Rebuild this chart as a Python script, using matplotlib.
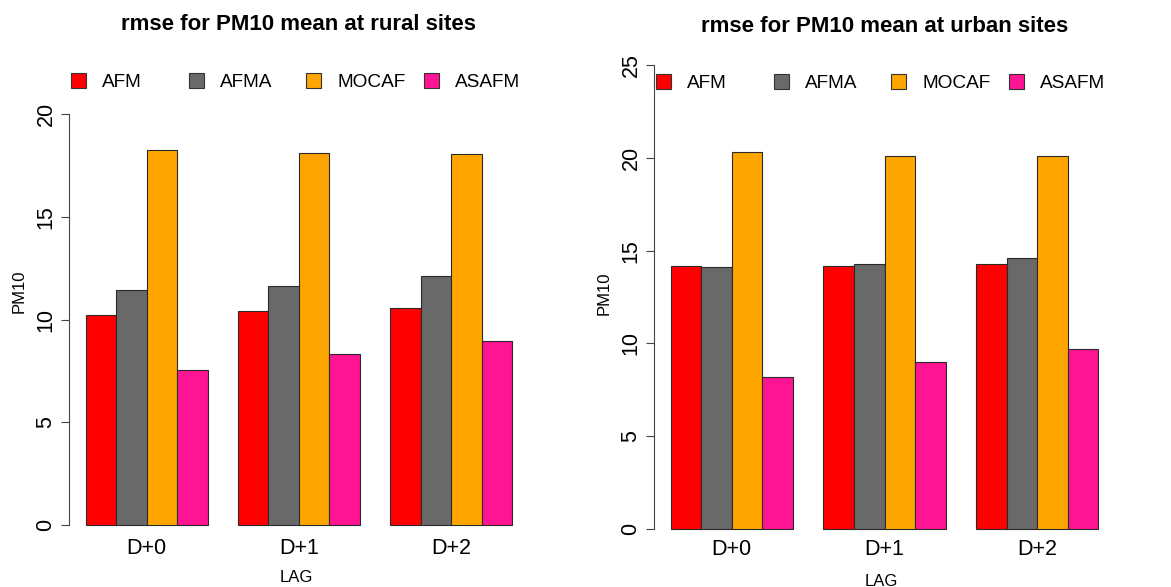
import matplotlib
matplotlib.use("Agg")
import matplotlib.pyplot as plt
from matplotlib.patches import Patch
import numpy as np

plt.rcParams['font.family'] = ['Liberation Sans', 'DejaVu Sans']

# rmse of PM10 daily mean, per model and forecast lag
lags = ["D+0", "D+1", "D+2"]
models = ["AFM", "AFMA", "MOCAF", "ASAFM"]
colors = ["#ff0000", "#696969", "#ffa500", "#ff1493"]

rural = {
    "AFM":   [10.24, 10.43, 10.58],
    "AFMA":  [11.44, 11.63, 12.14],
    "MOCAF": [18.26, 18.10, 18.05],
    "ASAFM": [7.55, 8.33, 8.95],
}
urban = {
    "AFM":   [14.15, 14.15, 14.28],
    "AFMA":  [14.12, 14.28, 14.62],
    "MOCAF": [20.34, 20.11, 20.11],
    "ASAFM": [8.18, 8.99, 9.68],
}

W, H = 1171, 587
fig = plt.figure(figsize=(W / 100, H / 100), dpi=100)


def px(x, y):
    return x / W, 1 - y / H


def barplot(rect, data, ymax, title, title_y, leg_y, xpad, ylab_x, ylab_y, lag_y):
    ax = fig.add_axes(rect)
    # grouped bars like R's barplot(beside=TRUE): one empty slot between groups
    for j, m in enumerate(models):
        for i in range(len(lags)):
            left = 1 + i * 5 + j
            ax.bar(left + 0.5, data[m][i], width=1.0, color=colors[j],
                   edgecolor="#2a2a2a", linewidth=0.8)
    ax.set_xlim(0.44, 15.56)
    ax.set_ylim(-ymax * 0.04, ymax * 1.04)
    for s in ["top", "right", "bottom"]:
        ax.spines[s].set_visible(False)
    ax.spines["left"].set_bounds(0, ymax)
    ax.spines["left"].set_color("#444444")
    ax.spines["left"].set_linewidth(0.8)
    ax.set_yticks(np.arange(0, ymax + 1, 5))
    ax.tick_params(axis="y", length=5.8, width=0.8, color="#444444",
                   labelsize=15.5, pad=3)
    plt.setp(ax.get_yticklabels(), rotation=90, va="center")
    ax.set_xticks([3, 8, 13])
    ax.set_xticklabels(lags)
    ax.tick_params(axis="x", length=0, labelsize=15.5, pad=xpad)

    x0 = rect[0] * W
    x1 = (rect[0] + rect[2]) * W
    cx = (x0 + x1) / 2
    fig.text(*px(cx, title_y), title, ha="center", va="center",
             fontsize=16, fontweight="bold")
    fig.text(*px(ylab_x, ylab_y), "PM10", ha="center", va="center",
             rotation=90, fontsize=12)
    fig.text(*px(cx - 3, lag_y), "LAG", ha="center", va="center", fontsize=12)

    # legend entries laid out on a fixed step, one per model
    for j, m in enumerate(models):
        lx = x0 + 2.5 + j * 117.5
        fig.legend(handles=[Patch(facecolor=colors[j], edgecolor="#333333",
                                  linewidth=0.8)],
                   labels=[m], loc="center left",
                   bbox_to_anchor=px(lx, leg_y), frameon=False,
                   fontsize=13.7, handlelength=0.8, handleheight=0.8,
                   handletextpad=0.84, borderpad=0, borderaxespad=0)
    return ax


# left panel: rural
barplot([68.65 / W, 0.0770, 460.4 / W, 0.757], rural, 20,
        "rmse for PM10 mean at rural sites", 25, 82, -2.5, 19, 291, 577)
# right panel: urban
barplot([653.6 / W, 0.0678, 461.8 / W, 0.8525], urban, 25,
        "rmse for PM10 mean at urban sites", 27, 83, -5.7, 604, 293, 581)

fig.savefig("out.png", dpi=100)
